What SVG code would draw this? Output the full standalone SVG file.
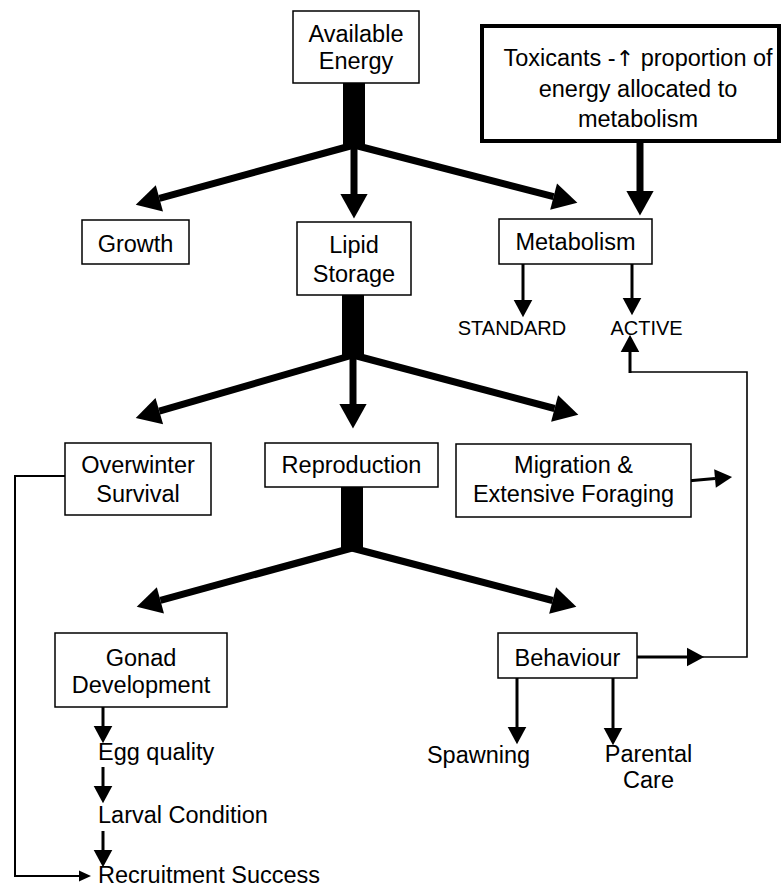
<svg xmlns="http://www.w3.org/2000/svg" width="783" height="888" viewBox="0 0 783 888">
  <style>
    .box { fill: #fff; stroke: #000; stroke-width: 1.5; }
    .heavy { fill: #fff; stroke: #000; stroke-width: 4; }
    .lbl { font-family: "Liberation Sans", Arial, sans-serif; font-size: 23.5px; fill: #000; text-anchor: middle; }
    .left { text-anchor: start; }
    .small { font-size: 20px; }
    .sym { font-family: "DejaVu Sans", sans-serif; font-size: 22px; }
    .stem { fill: #000; }
    .thick { stroke: #000; stroke-width: 7; fill: none; marker-end: url(#bigHead); }
    .mid { stroke: #000; stroke-width: 3; fill: none; marker-end: url(#smallHead); }
    .thin { stroke: #000; stroke-width: 1.6; fill: none; }
  </style>
  <defs>
    <marker id="bigHead" markerUnits="userSpaceOnUse" refX="0" refY="0" markerWidth="30" markerHeight="30" viewBox="-1 -11 20 22" orient="auto" overflow="visible">
      <path d="M0,-10 L18,0 L0,10 z" fill="#000"/>
    </marker>
    <marker id="smallHead" markerUnits="userSpaceOnUse" refX="0" refY="0" markerWidth="20" markerHeight="20" viewBox="-1 -7 14 14" orient="auto" overflow="visible">
      <path d="M0,-6.5 L12,0 L0,6.5 z" fill="#000"/>
    </marker>
  </defs>

  <!-- connectors -->
  <g id="connectors">
    <!-- energy split from Available Energy -->
    <rect class="stem" x="343" y="83" width="22" height="65"/>
    <line class="thick" x1="354" y1="145" x2="159.4" y2="198.3"/>
    <line class="thick" x1="354" y1="145" x2="354" y2="194"/>
    <line class="thick" x1="354" y1="145" x2="553.6" y2="196.6"/>

    <!-- toxicant effect on metabolism -->
    <line class="thick" x1="640" y1="141" x2="640" y2="191"/>

    <!-- metabolism components -->
    <line class="mid" x1="523" y1="264" x2="523" y2="300"/>
    <line class="mid" x1="632" y1="264" x2="632" y2="298"/>

    <!-- split from Lipid Storage -->
    <rect class="stem" x="342" y="295" width="22" height="63"/>
    <line class="thick" x1="353" y1="355" x2="159.3" y2="411.1"/>
    <line class="thick" x1="353" y1="355" x2="353" y2="404"/>
    <line class="thick" x1="353" y1="355" x2="554.6" y2="408.5"/>

    <!-- split from Reproduction -->
    <rect class="stem" x="341" y="487" width="22" height="64"/>
    <line class="thick" x1="352" y1="548" x2="160.4" y2="600.3"/>
    <line class="thick" x1="352" y1="548" x2="552.6" y2="600.5"/>

    <!-- migration feeds active metabolism -->
    <line class="mid" x1="687" y1="481" x2="715" y2="478.5"/>

    <!-- behaviour feeds active metabolism -->
    <line class="mid" x1="637" y1="657" x2="687" y2="657"/>
    <polyline class="thin" points="698,657 747,657 747,372 630,372"/>
    <line class="mid" x1="630" y1="373" x2="630" y2="352"/>

    <!-- behaviour outcomes -->
    <line class="mid" x1="517" y1="678" x2="517" y2="727"/>
    <line class="mid" x1="613" y1="678" x2="613" y2="728"/>

    <!-- gonad chain -->
    <line class="mid" x1="103" y1="707" x2="103" y2="726"/>
    <line class="mid" x1="103" y1="767" x2="103" y2="786"/>
    <line class="mid" x1="103" y1="831" x2="103" y2="850"/>

    <!-- overwinter survival to recruitment -->
    <polyline class="thin" points="65,476 15,476 15,876 80,876" style="stroke-width:2"/>
    <path d="M79,870.5 L91,876 L79,881.5 z" fill="#000"/>
  </g>

  <!-- nodes -->
  <g id="available-energy">
    <rect class="box" x="293" y="11" width="126" height="72"/>
    <text class="lbl" x="356" y="42">Available</text>
    <text class="lbl" x="356" y="69">Energy</text>
  </g>

  <g id="toxicants">
    <rect class="heavy" x="482" y="26" width="297" height="115"/>
    <text class="lbl" x="638" y="66">Toxicants -<tspan class="sym">↑</tspan> proportion of</text>
    <text class="lbl" x="638" y="97">energy allocated to</text>
    <text class="lbl" x="638" y="127">metabolism</text>
  </g>

  <g id="growth">
    <rect class="box" x="82" y="220" width="107" height="44"/>
    <text class="lbl" x="135.5" y="252">Growth</text>
  </g>

  <g id="lipid-storage">
    <rect class="box" x="297" y="222" width="114" height="73"/>
    <text class="lbl" x="354" y="253">Lipid</text>
    <text class="lbl" x="354" y="282">Storage</text>
  </g>

  <g id="metabolism">
    <rect class="box" x="499" y="219" width="153" height="45"/>
    <text class="lbl" x="575.5" y="250">Metabolism</text>
  </g>

  <g id="standard">
    <text class="lbl small" x="512" y="335">STANDARD</text>
  </g>

  <g id="active">
    <text class="lbl small" x="646.5" y="335">ACTIVE</text>
  </g>

  <g id="overwinter-survival">
    <rect class="box" x="65" y="443" width="146" height="72"/>
    <text class="lbl" x="138" y="473">Overwinter</text>
    <text class="lbl" x="138" y="502">Survival</text>
  </g>

  <g id="reproduction">
    <rect class="box" x="265" y="443" width="173" height="44"/>
    <text class="lbl" x="351.5" y="473">Reproduction</text>
  </g>

  <g id="migration">
    <rect class="box" x="456" y="444" width="235" height="73"/>
    <text class="lbl" x="573.5" y="473">Migration &amp;</text>
    <text class="lbl" x="573.5" y="502">Extensive Foraging</text>
  </g>

  <g id="gonad-development">
    <rect class="box" x="55" y="633" width="172" height="74"/>
    <text class="lbl" x="141" y="666">Gonad</text>
    <text class="lbl" x="141" y="693">Development</text>
  </g>

  <g id="behaviour">
    <rect class="box" x="498" y="633" width="139" height="45"/>
    <text class="lbl" x="567.5" y="666">Behaviour</text>
  </g>

  <g id="spawning">
    <text class="lbl" x="478.5" y="763">Spawning</text>
  </g>

  <g id="parental-care">
    <text class="lbl" x="648.5" y="762">Parental</text>
    <text class="lbl" x="648.5" y="788">Care</text>
  </g>

  <g id="egg-quality">
    <text class="lbl left" x="98" y="760">Egg quality</text>
  </g>

  <g id="larval-condition">
    <text class="lbl left" x="98" y="823">Larval Condition</text>
  </g>

  <g id="recruitment-success">
    <text class="lbl left" x="98" y="883">Recruitment Success</text>
  </g>
</svg>
